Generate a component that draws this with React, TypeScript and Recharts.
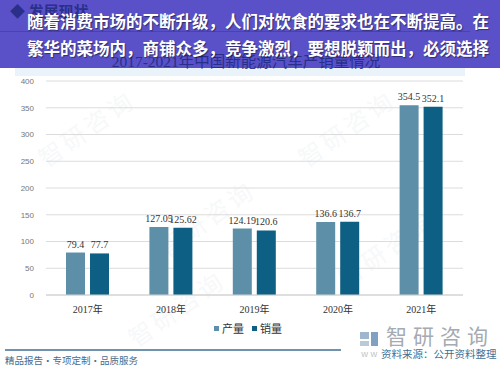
import React from 'react';
import { BarChart, Bar, XAxis, YAxis, CartesianGrid, LabelList } from 'recharts';

const years = ['2017年', '2018年', '2019年', '2020年', '2021年'];
const production = [79.4, 127.05, 124.19, 136.6, 354.5];
const sales = [77.7, 125.62, 120.6, 136.7, 352.1];
const yTicks = [0, 50, 100, 150, 200, 250, 300, 350, 400];
const seriesNames = ['产量', '销量'];

const data = years.map((y, i) => ({ year: y, prod: production[i], sale: sales[i] }));

const LIGHT = '#5e8fa9';
const DARK = '#0d5f83';
const CJK = '"Noto Sans CJK SC", sans-serif';

const watermarks = [
  { x: 30, y: 110 }, { x: 150, y: 200 }, { x: 290, y: 110 }, { x: 330, y: 230 }, { x: 120, y: 290 },
];

export default function App() {
  return (
    <div style={{ position: 'absolute', left: 0, top: 0, width: 500, height: 378, background: '#ffffff', overflow: 'hidden', fontFamily: CJK }}>
      {watermarks.map((w, i) => (
        <div key={i} style={{ position: 'absolute', left: w.x, top: w.y, fontSize: 24, color: '#8aa6c0', opacity: 0.07, transform: 'rotate(-35deg)', whiteSpace: 'nowrap', letterSpacing: 4 }}>
          智研咨询
        </div>
      ))}
      <div style={{ position: 'absolute', left: 15, top: 52, width: 450, height: 24, background: '#eaf3f9' }} />
      <div style={{ position: 'absolute', left: 0, top: 0 }}>
        <BarChart width={500} height={378} data={data} margin={{ top: 81, right: 37, left: 0, bottom: 53 }} barSize={19} barGap={5}>
          <CartesianGrid vertical={false} stroke="#dcdcdc" />
          <XAxis dataKey="year" height={30} tickLine={false} axisLine={{ stroke: '#d0d0d0' }} tick={{ fontSize: 10, fill: '#333', fontFamily: '"Liberation Serif", "Noto Sans CJK SC"' }} tickMargin={5} />
          <YAxis width={46} domain={[0, 400]} ticks={yTicks} tickLine={false} axisLine={false} tick={{ fontSize: 8, fill: '#777', fontFamily: '"Liberation Sans", sans-serif' }} tickMargin={6} />
          <Bar dataKey="prod" name={seriesNames[0]} fill={LIGHT} isAnimationActive={false}>
            <LabelList dataKey="prod" position="top" offset={5} style={{ fontSize: 10, fill: '#333', fontFamily: '"Liberation Serif", serif' }} />
          </Bar>
          <Bar dataKey="sale" name={seriesNames[1]} fill={DARK} isAnimationActive={false}>
            <LabelList dataKey="sale" position="top" offset={5} style={{ fontSize: 10, fill: '#333', fontFamily: '"Liberation Serif", serif' }} />
          </Bar>
        </BarChart>
      </div>

      {/* legend */}
      <div style={{ position: 'absolute', left: 214, top: 320, display: 'flex', alignItems: 'center', fontSize: 11, color: '#333', whiteSpace: 'nowrap', lineHeight: '16px' }}>
        <span style={{ display: 'inline-block', width: 5, height: 5, background: LIGHT, marginRight: 3 }} />
        <span style={{ marginRight: 8 }}>{seriesNames[0]}</span>
        <span style={{ display: 'inline-block', width: 5, height: 5, background: DARK, marginRight: 3 }} />
        <span>{seriesNames[1]}</span>
      </div>

      {/* banner */}
      <div style={{ position: 'absolute', left: 0, top: 0, width: 500, height: 68, background: '#5a51c9' }} />
      <div style={{ position: 'absolute', left: 10, top: 1, fontSize: 15, color: '#2a2f8a', fontWeight: 700, lineHeight: '20px' }}>◆ 发展现状</div>
      <div style={{ position: 'absolute', left: 0, top: 31, width: 470, height: 1, background: '#3a3aa0', opacity: 0.6 }} />
      <div style={{ position: 'absolute', left: 0, top: 48, width: 500, textAlign: 'center' }}>
        <span style={{ fontSize: 15.5, color: '#1e2a80', opacity: 0.85, fontFamily: '"Liberation Serif", "Noto Sans CJK SC"', position: 'relative', left: -4 }}>2017-2021年中国新能源汽车产销量情况</span>
      </div>
      <div style={{ position: 'absolute', left: 27, top: 8, fontSize: 16.5, fontWeight: 700, color: '#ffffff', whiteSpace: 'nowrap', lineHeight: '27px', textShadow: '1px 1px 1px rgba(0,0,0,0.45)' }}>
        <div>随着消费市场的不断升级，人们对饮食的要求也在不断提高。在</div>
        <div>繁华的菜场内，商铺众多，竞争激烈，要想脱颖而出，必须选择</div>
      </div>

      {/* footer */}
      <div style={{ position: 'absolute', left: 5, top: 349, width: 336, height: 1.5, background: '#6f93ad' }} />
      <div style={{ position: 'absolute', left: 5, top: 353, fontSize: 9.5, color: '#4a6c8c', whiteSpace: 'nowrap' }}>精品报告・专项定制・品质服务</div>
      <div style={{ position: 'absolute', left: 360, top: 332, width: 9, height: 7, background: '#9fb7cc' }} />
      <div style={{ position: 'absolute', left: 371, top: 332, width: 7, height: 14, background: '#7fa2c2' }} />
      <div style={{ position: 'absolute', left: 360, top: 341, width: 9, height: 5, background: '#b9c9d6' }} />
      <div style={{ position: 'absolute', left: 386, top: 321, fontSize: 21, color: '#a5abb2', letterSpacing: 6, whiteSpace: 'nowrap', lineHeight: '28px' }}>智研咨询</div>
      <div style={{ position: 'absolute', left: 361, top: 347, fontSize: 9, color: '#c0c4c8', whiteSpace: 'nowrap' }}>w w</div>
      <div style={{ position: 'absolute', left: 381, top: 346, fontSize: 10.5, color: '#3f6f95', whiteSpace: 'nowrap' }}>资料来源：公开资料整理</div>
    </div>
  );
}
